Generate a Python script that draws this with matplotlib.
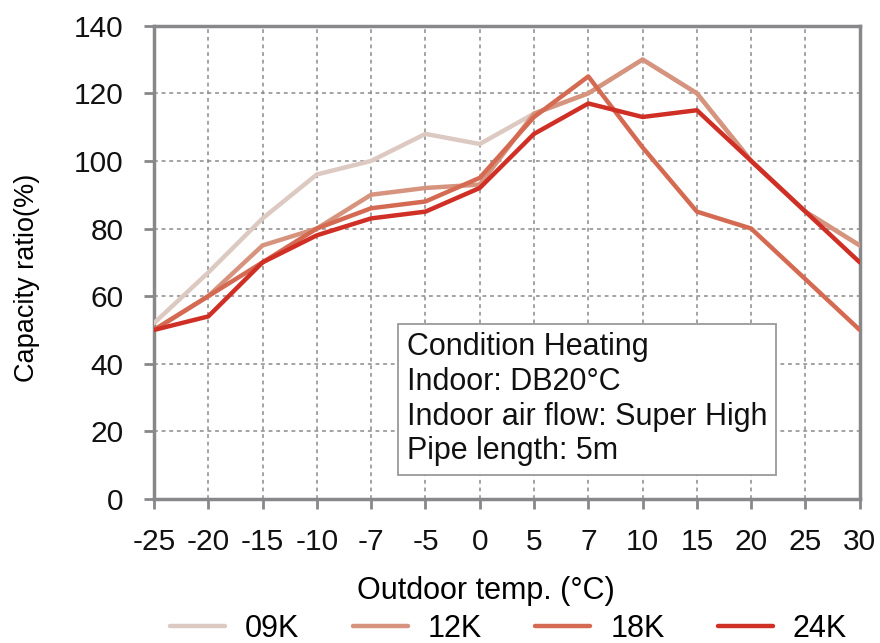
import matplotlib
matplotlib.use("Agg")
import matplotlib.pyplot as plt
import numpy as np

plt.rcParams['font.family'] = ['Liberation Sans', 'DejaVu Sans']

## data
temps = ['-25', '-20', '-15', '-10', '-7', '-5', '0', '5', '7', '10', '15', '20', '25', '30']
cap_09k = [52, 67, 83, 96, 100, 108, 105, 114, 120, 130, 120, 100, 85, 75]
cap_12k = [50, 60, 75, 80, 90, 92, 93, 114, 120, 130, 120, 100, 85, 75]
cap_18k = [50, 60, 70, 80, 86, 88, 95, 113, 125, 104, 85, 80, 65, 50]
cap_24k = [50, 54, 70, 78, 83, 85, 92, 108, 117, 113, 115, 100, 85, 70]
series_names = ['09K', '12K', '18K', '24K']
colors = ['#dcc9c1', '#d6937d', '#d46a52', '#cf2f25']
note = "Condition Heating\nIndoor: DB20°C\nIndoor air flow: Super High\nPipe length: 5m"

spine_col = '#88888b'

fig = plt.figure(figsize=(8.8, 6.43), dpi=100)
ax = fig.add_axes([0.175, 0.224, 0.802, 0.736])

x = np.arange(len(temps))
for vals, name, col in zip([cap_09k, cap_12k, cap_18k, cap_24k], series_names, colors):
    ax.plot(x, vals, color=col, lw=3.2, label=name, solid_capstyle='round', zorder=3)

ax.set_xlim(0, len(temps) - 1)
ax.set_ylim(0, 140)
ax.set_xticks(x)
ax.set_xticklabels(temps)
ax.set_yticks(np.arange(0, 141, 20))
ax.tick_params(axis='both', labelsize=21.5, colors=spine_col, labelcolor='#111111',
               width=2, length=7, direction='out')
ax.tick_params(axis='x', pad=14)
ax.tick_params(axis='y', pad=15)
for sp in ax.spines.values():
    sp.set_color(spine_col)
    sp.set_linewidth(2.5)

ax.grid(True, color='#8a8a8a', linestyle=(0, (2.5, 2.5)), linewidth=1.1)
ax.set_axisbelow(True)

ax.set_ylabel('Capacity ratio(%)', fontsize=19.5)
ax.yaxis.set_label_coords(-0.162, 0.467)
ax.set_xlabel('Outdoor temp. (°C)', fontsize=22)
ax.xaxis.set_label_coords(0.47, -0.163)

ax.text(0.358, 0.352, note, transform=ax.transAxes, fontsize=22, va='top', ha='left',
        color='#111111', linespacing=1.2, zorder=5,
        bbox=dict(boxstyle='square,pad=0.28', facecolor='white', edgecolor='#9a9a9a', linewidth=1.3))

fig.legend(loc='center', bbox_to_anchor=(0.578, 0.022), ncol=4, frameon=False,
           fontsize=22, handlelength=1.8, handletextpad=0.65, columnspacing=1.75)

fig.savefig('out.png', dpi=100)
